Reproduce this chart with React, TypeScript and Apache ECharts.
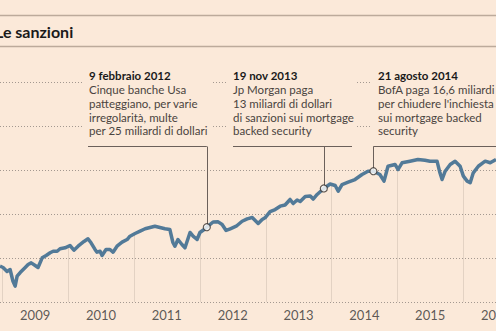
import React, { useEffect, useRef } from "react";
import * as echarts from "echarts";

const dates = [
  "2008-12-19","2009-01-05","2009-01-27","2009-02-13","2009-03-01","2009-03-13","2009-03-24","2009-04-10",
  "2009-05-08","2009-05-24","2009-06-10","2009-07-02","2009-07-18","2009-08-10","2009-09-01","2009-09-23",
  "2009-10-10","2009-11-01","2009-11-17","2009-12-15","2010-01-11","2010-02-02","2010-02-25","2010-03-30",
  "2010-04-21","2010-05-08","2010-05-30","2010-06-10","2010-06-27","2010-07-08","2010-07-30","2010-08-21",
  "2010-09-07","2010-09-29","2010-10-27","2010-11-24","2010-12-10","2011-01-07","2011-02-04","2011-03-04",
  "2011-03-31","2011-04-27","2011-05-25","2011-06-22","2011-07-19","2011-08-05","2011-08-16","2011-09-02",
  "2011-09-24","2011-10-11","2011-11-08","2011-11-25","2011-12-17","2012-01-02","2012-01-25","2012-02-09",
  "2012-03-15","2012-04-12","2012-05-04","2012-05-26","2012-06-18","2012-07-21","2012-08-23","2012-09-20",
  "2012-10-18","2012-11-20","2012-12-12","2012-12-28","2013-01-25","2013-02-22","2013-03-22","2013-04-18",
  "2013-05-16","2013-06-02","2013-06-24","2013-07-11","2013-08-08","2013-09-05","2013-09-21","2013-10-13",
  "2013-11-19","2013-12-24","2014-01-21","2014-02-07","2014-02-28","2014-04-03","2014-05-11","2014-06-19",
  "2014-07-22","2014-08-21","2014-09-26","2014-10-19","2014-11-10","2014-12-19","2015-01-05","2015-01-27",
  "2015-03-12","2015-04-25","2015-06-03","2015-07-01","2015-08-09","2015-08-25","2015-09-06","2015-09-23",
  "2015-10-21","2015-11-17","2015-12-15","2016-01-02","2016-01-23","2016-02-09","2016-02-26","2016-03-25",
  "2016-05-02","2016-05-30","2016-07-01",
];

const values = [
  140.7,139.2,134.7,136.9,123.6,118.0,129.3,133.5,
  139.2,142.6,144.5,141.5,139.2,150.2,152.8,155.9,
  157.7,157.7,160.5,161.6,164.2,158.9,163.4,168.8,
  171.8,167.3,159.7,156.6,157.7,152.8,159.7,159.7,
  156.6,163.4,168.0,171.0,174.8,177.8,180.5,183.2,
  184.7,186.1,184.7,183.2,182.4,167.6,163.4,171.0,
  165.3,161.6,179.0,174.8,171.0,179.0,182.4,185.0,
  190.9,191.1,188.1,181.3,183.2,186.1,191.8,194.5,
  196.0,189.2,193.8,195.7,202.8,205.1,208.9,210.2,
  216.5,211.9,215.9,214.2,219.9,220.5,217.0,222.2,
  229.0,234.1,232.4,225.9,233.5,236.1,239.2,244.9,
  248.6,248.6,244.9,237.3,254.3,256.3,250.6,258.2,
  260.0,261.9,261.1,260.0,260.0,246.8,239.2,248.6,
  256.3,260.0,254.3,243.0,237.3,235.5,246.8,254.3,
  260.0,258.2,261.9,
];

const yearLabels = ["2009", "2010", "2011", "2012", "2013", "2014", "2015", "2016"];
const yearLabelDates = ["2009-07-02", "2010-07-02", "2011-07-02", "2012-07-02", "2013-07-02", "2014-07-02", "2015-07-02", "2016-07-01"];
const yearStarts = ["2009-01-01", "2010-01-01", "2011-01-01", "2012-01-01", "2013-01-01", "2014-01-01", "2015-01-01", "2016-01-01"];

const eventDates = ["2012-02-09", "2013-11-19", "2014-08-21"];
const eventTitles = ["9 febbraio 2012", "19 nov 2013", "21 agosto 2014"];
const eventTexts = [
  "Cinque banche Usa\npatteggiano, per varie\nirregolarità, multe\nper 25 miliardi di dollari",
  "Jp Morgan paga\n13 miliardi di dollari\ndi sanzioni sui mortgage\nbacked security",
  "BofA paga 16,6 miliardi\nper chiudere l'inchiesta\nsui mortgage backed\nsecurity",
];

const title = "Le sanzioni";

const BG = "#fbe9d9";
const LINE = "#527a98";
const FONT = "Lato, 'Open Sans', sans-serif";

function valueAt(d: string): number {
  const t = new Date(d).getTime();
  for (let i = 0; i < dates.length - 1; i++) {
    const a = new Date(dates[i]).getTime();
    const b = new Date(dates[i + 1]).getTime();
    if (t >= a && t <= b) {
      const f = (t - a) / (b - a);
      return values[i] + f * (values[i + 1] - values[i]);
    }
  }
  return values[0];
}

export default function App() {
  const ref = useRef<HTMLDivElement>(null);
  useEffect(() => {
    if (!ref.current) return;
    const chart = echarts.init(ref.current, null, { renderer: "svg" });
    const lineData = dates.map((d, i) => [d, values[i]]);
    const eventData = eventDates.map((d) => {
      const i = dates.indexOf(d);
      return [d, values[i]];
    });

    const option: any = {
      animation: false,
      backgroundColor: BG,
      grid: { left: 0, right: 0, top: 82, bottom: 29 },
      xAxis: {
        type: "time",
        min: "2008-12-19",
        max: "2016-07-01",
        axisLabel: { show: false },
        axisLine: { show: false },
        axisTick: { show: false },
        splitLine: { show: false },
      },
      yAxis: {
        type: "value",
        min: 100,
        max: 350,
        interval: 50,
        axisLabel: { show: false },
        axisLine: { show: false },
        axisTick: { show: false },
        splitLine: { show: true, lineStyle: { color: "#a39890", width: 1, type: [1, 2] } },
      },
      series: [
        {
          type: "line",
          data: lineData,
          showSymbol: false,
          symbol: "none",
          lineStyle: { color: LINE, width: 3.5, join: "round" },
          z: 3,
          markLine: {
            silent: true,
            symbol: "none",
            label: { show: false },
            lineStyle: { color: "#e3d2c3", width: 1, type: "solid" },
            data: yearStarts.map((d) => [
              { coord: [d, 100] },
              { coord: [d, valueAt(d)] },
            ]),
            z: 1,
          },
        },
        {
          type: "scatter",
          data: yearLabelDates.map((d) => [d, 100]),
          symbolSize: 0,
          silent: true,
          clip: false,
          label: {
            show: true,
            position: "bottom",
            distance: 6,
            formatter: (p: any) => yearLabels[p.dataIndex],
            color: "#333333",
            fontSize: 13,
            fontFamily: FONT,
          },
        },
        {
          type: "scatter",
          data: eventData,
          symbol: "circle",
          symbolSize: 7,
          itemStyle: { color: "#ffffff", borderColor: "#3a3330", borderWidth: 1.2 },
          z: 10,
        },
      ],
    };
    chart.setOption(option);

    const px = eventData.map((e) => chart.convertToPixel({ xAxisIndex: 0, yAxisIndex: 0 }, e) as number[]);
    const leaderY = 146.5;
    const boxes = [
      { x: 83, w: 130, tx: 89, hx0: 88, hx1: px[0][0] },
      { x: 228, w: 128, tx: 233, hx0: 233, hx1: 352 },
      { x: 372, w: 130, tx: 378, hx0: px[2][0], hx1: 500 },
    ];
    const graphics: any[] = [
      { type: "line", shape: { x1: 0, y1: 15.5, x2: 496, y2: 15.5 }, style: { stroke: "#bcaa9b", lineWidth: 1.5 }, z: 50 },
      { type: "line", shape: { x1: 0, y1: 46.5, x2: 496, y2: 46.5 }, style: { stroke: "#bcaa9b", lineWidth: 1.5 }, z: 50 },
      {
        type: "text",
        x: -5,
        y: 31,
        style: { text: title, font: `bold 16px ${FONT}`, fill: "#1a1a1a", verticalAlign: "middle" },
        z: 50,
      },
    ];
    boxes.forEach((b, i) => {
      graphics.push({ type: "rect", shape: { x: b.x, y: 62, width: b.w, height: 78 }, style: { fill: BG }, z: 40 });
      graphics.push({
        type: "text",
        x: b.tx,
        y: 75,
        style: { text: eventTitles[i], font: `bold 11.5px ${FONT}`, fill: "#1a1a1a", verticalAlign: "middle" },
        z: 50,
      });
      graphics.push({
        type: "text",
        x: b.tx,
        y: 82.5,
        style: { text: eventTexts[i], font: `11.5px ${FONT}`, fill: "#4a4440", lineHeight: 13.8, verticalAlign: "top" },
        z: 50,
      });
      graphics.push({
        type: "line",
        shape: { x1: b.hx0, y1: leaderY, x2: b.hx1, y2: leaderY },
        style: { stroke: "#6b605a", lineWidth: 1 },
        z: 45,
      });
      graphics.push({
        type: "line",
        shape: { x1: Math.round(px[i][0]) + 0.5, y1: leaderY, x2: Math.round(px[i][0]) + 0.5, y2: px[i][1] },
        style: { stroke: "#6b605a", lineWidth: 1 },
        z: 2,
      });
    });
    chart.setOption({ graphic: graphics });

    return () => chart.dispose();
  }, []);

  return (
    <div
      ref={ref}
      style={{ position: "fixed", left: 0, top: 0, width: 496, height: 331 }}
    />
  );
}
